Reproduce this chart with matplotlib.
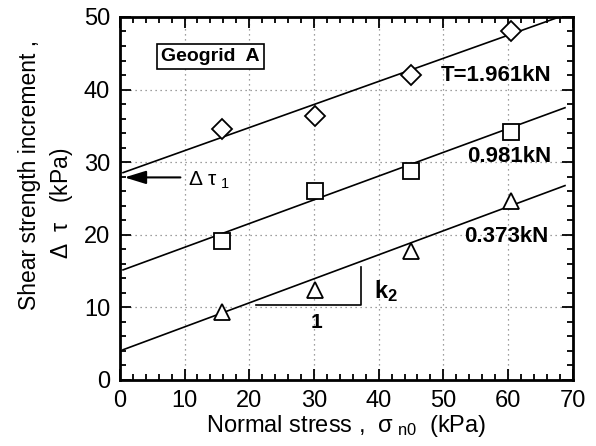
import numpy as np
import matplotlib.pyplot as plt
from matplotlib.ticker import MultipleLocator

plt.rcParams['font.family'] = ['Liberation Sans', 'DejaVu Sans']
plt.rcParams['mathtext.fontset'] = 'custom'
plt.rcParams['mathtext.rm'] = 'Liberation Sans'
plt.rcParams['mathtext.it'] = 'Liberation Sans'
plt.rcParams['mathtext.bf'] = 'Liberation Sans:bold'

# data
sigma = [15.8, 30.2, 45.0, 60.5]
tau_1961 = [34.6, 36.4, 42.0, 48.1]
tau_0981 = [19.1, 26.0, 28.8, 34.1]
tau_0373 = [9.4, 12.4, 17.7, 24.6]

# fitted lines (intercept, slope)
fit_1961 = (28.4, 0.318)
fit_0981 = (15.0, 0.327)
fit_0373 = (4.0, 0.331)

fig = plt.figure(figsize=(5.96, 4.46), dpi=100)
ax = fig.add_axes([0.201, 0.148, 0.76, 0.814])

xx = np.array([0.5, 68.8])
for fit in (fit_1961, fit_0981, fit_0373):
    ax.plot(xx, fit[0] + fit[1] * xx, color='black', lw=1.2, zorder=3)

ax.plot(sigma, tau_1961, 'D', ms=10, mfc='white', mec='black', mew=1.3, zorder=4)
ax.plot(sigma, tau_0981, 's', ms=11.5, mfc='white', mec='black', mew=1.3, zorder=4)
ax.plot(sigma, tau_0373, '^', ms=11, mfc='white', mec='black', mew=1.3, zorder=4)

# slope triangle
ax.plot([21, 37.2, 37.2], [10.3, 10.3, 15.5], color='black', lw=1.2)
ax.text(30.4, 7.9, '1', fontsize=15, fontweight='bold', ha='center', va='center')
ax.text(39.3, 12.3, r'k$_{\mathbf{2}}$', fontsize=17, fontweight='bold', ha='left', va='center')

# arrow for delta tau 1
ax.annotate('', xy=(0.3, 27.9), xytext=(9.8, 27.9),
            arrowprops=dict(arrowstyle='-|>,head_length=1.3,head_width=0.4',
                            color='black', lw=1.5))
ax.text(10.6, 27.5, r'$\Delta\ \tau_{\ 1}$', fontsize=15, ha='left', va='center')

ax.text(14.0, 44.5, 'Geogrid  A', fontsize=14, fontweight='bold', ha='center', va='center',
        bbox=dict(boxstyle='square,pad=0.2', fc='white', ec='black', lw=1.2))

ax.text(66.7, 41.9, 'T=1.961kN', fontsize=16, fontweight='bold', ha='right', va='center')
ax.text(66.7, 30.8, '0.981kN', fontsize=16, fontweight='bold', ha='right', va='center')
ax.text(66.2, 19.8, '0.373kN', fontsize=16, fontweight='bold', ha='right', va='center')

ax.set_xlim(0, 70)
ax.set_ylim(0, 50)
ax.xaxis.set_major_locator(MultipleLocator(10))
ax.xaxis.set_minor_locator(MultipleLocator(2))
ax.yaxis.set_major_locator(MultipleLocator(10))
ax.yaxis.set_minor_locator(MultipleLocator(2))
ax.tick_params(which='both', direction='in', top=True, right=True, labelsize=17, width=1.3)
ax.tick_params(which='major', length=8, pad=7)
ax.tick_params(which='minor', length=4)
for s in ax.spines.values():
    s.set_linewidth(2)
ax.grid(True, which='major', color='gray', ls=(0, (1, 3)), lw=0.9)

ax.set_xlabel(r'Normal stress ,  $\sigma_{\ n0}$  (kPa)', fontsize=17, labelpad=1)

fig.text(0.050, 0.608, 'Shear strength increment ,', fontsize=16.5, rotation=90,
         ha='center', va='center')
fig.text(0.104, 0.545, r'$\Delta\ \ \tau$   (kPa)', fontsize=16.5, rotation=90,
         ha='center', va='center')

fig.savefig('out.png', dpi=100)
